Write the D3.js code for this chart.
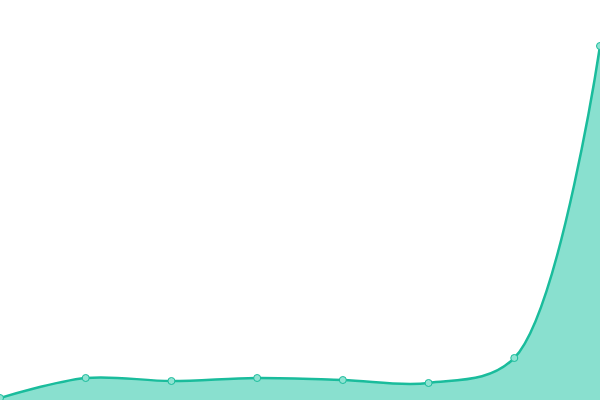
<!DOCTYPE html>
<html>
<head>
<meta charset="utf-8">
<script src="https://cdn.jsdelivr.net/npm/d3@7"></script>
<style>
  body { margin: 0; background: #fff; }
</style>
</head>
<body>
<script>
// categories (no labels shown) and series values
const categories = ["1", "2", "3", "4", "5", "6", "7", "8"];
const values = [2, 22, 19, 22, 20, 17, 42, 354];

const width = 600;
const height = 400;

const svg = d3.select("body")
  .append("svg")
  .attr("width", width)
  .attr("height", height);

const xScale = d3.scalePoint()
  .domain(categories)
  .range([0, width]);

const yScale = d3.scaleLinear()
  .domain([0, 400])
  .range([height, 0]);

const curve = d3.curveCatmullRom.alpha(0.5);

// filled area
const area = d3.area()
  .x((d, i) => xScale(categories[i]))
  .y0(yScale(0))
  .y1(d => yScale(d))
  .curve(curve);

svg.append("path")
  .datum(values)
  .attr("d", area)
  .attr("fill", "#89e0cf");

// line on top
const line = d3.line()
  .x((d, i) => xScale(categories[i]))
  .y(d => yScale(d))
  .curve(curve);

svg.append("path")
  .datum(values)
  .attr("d", line)
  .attr("fill", "none")
  .attr("stroke", "#1abc9c")
  .attr("stroke-width", 2.5);

// point markers
svg.selectAll(".dot")
  .data(values)
  .enter()
  .append("circle")
  .attr("class", "dot")
  .attr("cx", (d, i) => xScale(categories[i]))
  .attr("cy", d => yScale(d))
  .attr("r", 3.5)
  .attr("fill", "#8fe3d2")
  .attr("stroke", "#1abc9c")
  .attr("stroke-width", 1);
</script>
</body>
</html>
